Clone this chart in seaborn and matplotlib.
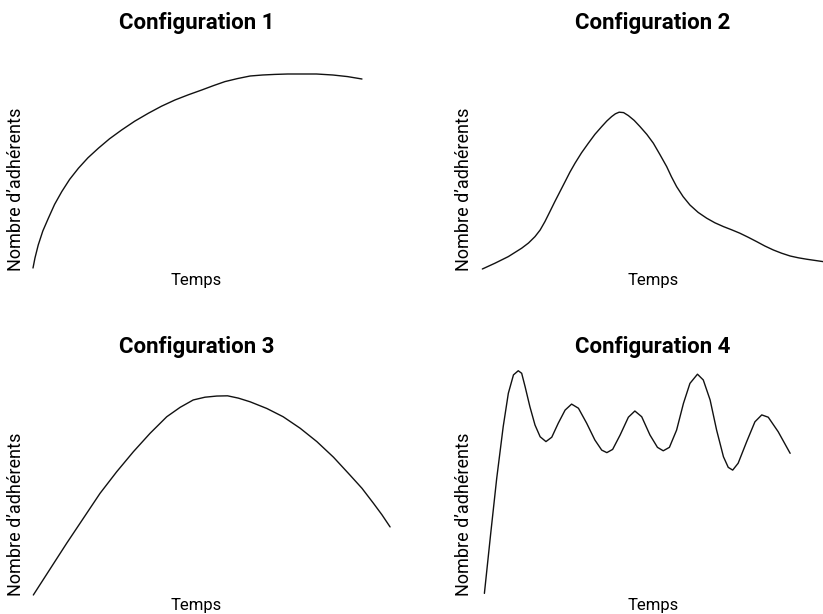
import matplotlib
matplotlib.use("Agg")
import matplotlib.pyplot as plt
import seaborn as sns
import pandas as pd

sns.set_theme(style="white")
plt.rcParams["font.family"] = ["Roboto", "DejaVu Sans"]

titles = ["Configuration 1", "Configuration 2", "Configuration 3", "Configuration 4"]
x_label = "Temps"
y_label = "Nombre d\u2019adh\u00e9rents"

# Panel 1: saturating growth
t1 = [0, 0.6, 1.6, 3.0, 4.7, 6.6, 8.8, 11.2, 13.9, 16.8, 20.0, 23.4, 27.1, 31.1, 35.3, 39.3,
      43.4, 47.5, 51.6, 55.2, 58.7, 62.5, 66.4, 70.2, 74.0, 77.9, 81.7, 86.7, 91.7, 96.2, 100.6]
n1 = [1.0, 6.0, 12.5, 19.5, 25.9, 32.8, 39.2, 45.3, 50.9, 56.1, 60.9, 65.6, 70.0, 74.4, 78.4, 81.9,
      85.0, 87.6, 90.0, 92.2, 94.2, 95.7, 97.0, 97.5, 97.8, 98.0, 98.0, 98.0, 97.5, 96.7, 95.5]

# Panel 2: peak then decline
t2 = [0.1, 3.8, 7.7, 11.6, 13.6, 15.5, 17.0, 18.4, 19.8, 21.3, 22.8, 24.3, 25.7, 27.2, 29.1,
      31.1, 33.0, 35.0, 36.5, 37.9, 39.0, 40.1, 41.4, 42.8, 44.5, 46.2, 48.2, 50.1, 52.0, 54.0,
      55.4, 56.9, 58.8, 60.8, 63.2, 65.7, 68.1, 70.6, 73.0, 75.4, 77.8, 80.3, 82.7, 85.2, 87.6,
      90.1, 92.5, 94.9, 97.3, 99.7]
n2 = [0.5, 3.4, 6.7, 10.9, 13.5, 16.7, 20.0, 24.2, 29.0, 34.2, 39.2, 44.2, 48.9, 53.4, 58.6,
      63.4, 67.8, 71.7, 74.5, 76.7, 78.1, 78.9, 78.7, 77.2, 74.8, 71.7, 67.8, 63.4, 57.8, 51.7,
      46.6, 41.7, 36.7, 32.5, 28.8, 25.9, 23.6, 21.7, 20.1, 18.4, 16.4, 14.2, 12.0, 10.0, 8.4,
      7.0, 6.1, 5.4, 4.8, 4.2]

# Panel 3: rise and fall
t3 = [0.1, 10.3, 20.5, 25.6, 30.7, 35.8, 40.9, 45.0, 49.0, 52.6, 56.2, 59.5, 62.8, 66.4,
      71.5, 76.5, 81.7, 86.8, 91.9, 96.9, 100.6, 104.1, 106.7, 109.2]
n3 = [0.0, 22.5, 44.2, 53.6, 62.3, 70.3, 77.5, 81.6, 84.8, 86.0, 86.5, 86.6, 85.6, 84.0,
      81.1, 77.5, 72.5, 66.7, 59.9, 52.2, 46.4, 39.9, 34.9, 29.6]

# Panel 4: fast rise then oscillations
t4 = [0.7, 2.5, 4.3, 6.2, 7.7, 9.2, 10.6, 11.6, 12.6, 14.0, 15.5, 17.0, 18.7, 20.4, 22.3,
      24.3, 26.2, 28.2, 30.6, 33.0, 35.0, 36.5, 38.2, 40.4, 42.8, 44.7, 46.7, 49.1, 51.3,
      53.0, 54.8, 56.9, 58.9, 60.8, 63.0, 64.7, 66.7, 68.6, 70.6, 72.0, 73.3, 74.9, 77.4,
      79.8, 81.8, 83.7, 86.6, 90.1]
n4 = [0.7, 26.1, 50.7, 73.2, 87.7, 95.7, 97.5, 96.4, 90.6, 81.9, 73.9, 68.8, 66.7, 68.6, 74.7,
      80.4, 83.0, 81.2, 74.7, 67.4, 63.0, 61.9, 63.3, 69.6, 77.3, 80.0, 77.5, 69.6, 64.2,
      62.7, 64.2, 71.7, 83.3, 92.0, 96.0, 93.5, 84.8, 71.7, 60.1, 55.5, 54.3, 57.3, 66.7,
      75.3, 78.3, 77.3, 71.0, 61.6]

series = [(t1, n1), (t2, n2), (t3, n3), (t4, n4)]

W, H = 823, 614
fig = plt.figure(figsize=(W / 100, H / 100), dpi=100)

# axes boxes in pixels: (left, top, right, bottom)
boxes = [(33, 70, 360, 270), (482, 70, 824, 270), (33, 365, 360, 595), (482, 365, 824, 595)]
title_y = [1.205, 1.205, 1.052, 1.052]
xlab_y = [-0.015, -0.015, -0.012, -0.012]
ylab_x = [-0.024, -0.026, -0.024, -0.026]
ylab_y = [0.405, 0.405, 0.352, 0.352]

for i, ((l, t, r, b), (tx, ny)) in enumerate(zip(boxes, series)):
    ax = fig.add_axes([l / W, 1 - b / H, (r - l) / W, (b - t) / H])
    df = pd.DataFrame({"Temps": tx, "Adherents": ny})
    sns.lineplot(data=df, x="Temps", y="Adherents", ax=ax, color="#111111",
                 linewidth=1.0, sort=False, estimator=None, clip_on=False)
    ax.set_xlim(0, 100)
    ax.set_ylim(0, 100)
    ax.set_xticks([])
    ax.set_yticks([])
    sns.despine(ax=ax, left=True, bottom=True)
    ax.set_title(titles[i], fontsize=16, fontweight="bold", y=title_y[i], pad=0, color="black")
    ax.set_xlabel(x_label, fontsize=12, color="black")
    ax.set_ylabel(y_label, fontsize=13, color="black")
    ax.xaxis.set_label_coords(0.5, xlab_y[i])
    ax.yaxis.set_label_coords(ylab_x[i], ylab_y[i])

fig.savefig("out.png", dpi=100)
